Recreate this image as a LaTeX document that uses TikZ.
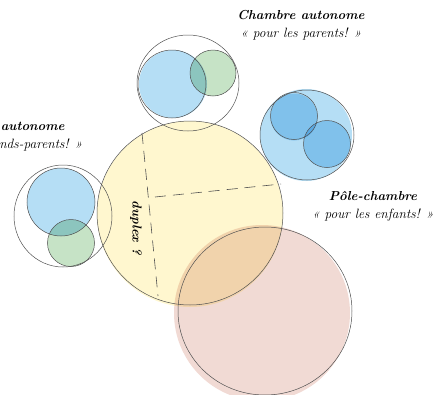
\documentclass[tikz,border=0pt]{standalone}
\usepackage{fontspec}
\usetikzlibrary{positioning}
\definecolor{jaune}{HTML}{FFF7CF}
\definecolor{rose}{HTML}{F1DAD4}
\definecolor{bleu}{HTML}{B5DEF5}
\definecolor{vert}{HTML}{C6E3C6}
\definecolor{trait}{HTML}{505050}
\begin{document}
\begin{tikzpicture}[x=1pt,y=-1pt,
  contour/.style={draw=trait,line width=.5pt},
  titre/.style={font=\bfseries\itshape\fontsize{13}{15}\selectfont,inner sep=0pt},
  sous/.style={font=\itshape\fontsize{13.5}{15}\selectfont,inner sep=0pt},
  cloison/.style={draw=trait,line width=.6pt,dash pattern=on 11pt off 7pt}]
\useasboundingbox (0,0) rectangle (434,394);
\clip (0,0) rectangle (434,394);

% couleurs
\begin{scope}[blend mode=multiply]
\fill[jaune] (190,214) circle (93);
\fill[rose] (262,313) circle (88);
\fill[bleu] (173,84) circle (34);
\fill[vert] (213,73) circle (23);
\fill[bleu] (61,202) circle (34);
\fill[vert] (71,243) circle (23.5);
\fill[bleu] (306,135) circle (46);
\fill[bleu] (294,117) circle (23.5);
\fill[bleu] (327,144) circle (23.5);
\end{scope}

% contours
\draw[contour] (190,213) ellipse (93 and 92);
\draw[contour] (265,311) ellipse (87 and 84);
\draw[contour] (188,83) ellipse (51 and 48);
\draw[contour] (172,84) circle (34);
\draw[contour] (213,73) circle (23);
\draw[contour] (63,216) ellipse (49 and 51);
\draw[contour] (61,202) circle (34);
\draw[contour] (71,243) circle (23.5);
\draw[contour] (307,135) ellipse (47 and 45);
\draw[contour] (294,116) circle (23.5);
\draw[contour] (327,144) circle (23.5);

% cloisons
\draw[cloison] (142,133) -- (158,296);
\draw[cloison] (155,197) -- (281,184);
\node[titre,rotate=-90] (duplex) at (136,228) {duplex ?};

% textes
\node[titre] (titreParents) at (301,15) {Chambre autonome};
\node[sous,below=8pt of titreParents] (sousParents) {« pour les parents! »};
\node[titre] (titreGrands) at (1,126) {Chambre autonome};
\node[sous,below=8pt of titreGrands] (sousGrands) {« pour les grands-parents! »};
\node[titre] (titreEnfants) at (373,196) {Pôle-chambre};
\node[sous,below=8pt of titreEnfants] (sousEnfants) {« pour les enfants! »};
\end{tikzpicture}
\end{document}
